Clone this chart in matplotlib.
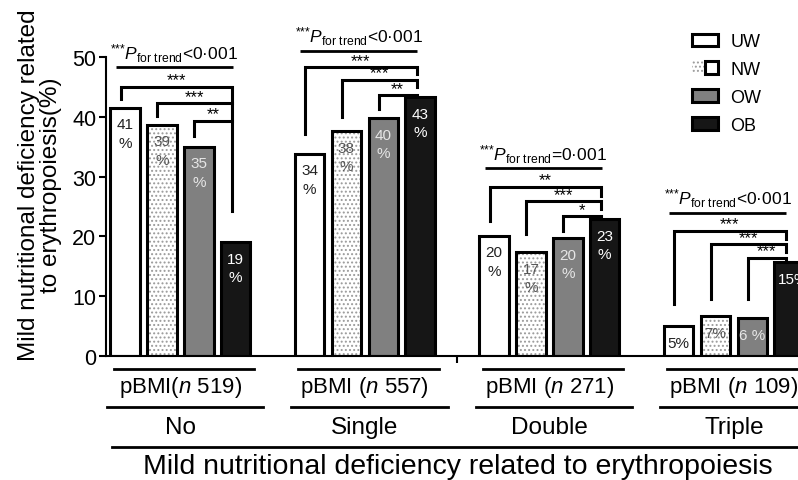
import numpy as np
import matplotlib.pyplot as plt
from matplotlib.patches import Patch
from matplotlib.legend_handler import HandlerTuple
import matplotlib.transforms as mtransforms

plt.rcParams['font.family'] = ['Liberation Sans', 'DejaVu Sans']
plt.rcParams['mathtext.fontset'] = 'custom'
plt.rcParams['mathtext.rm'] = 'Liberation Sans'
plt.rcParams['mathtext.it'] = 'Liberation Sans:italic'
plt.rcParams['hatch.linewidth'] = 0.9

# data
groups = ['No', 'Single', 'Double', 'Triple']
group_n = ['pBMI($\\mathit{n}$ 519)', 'pBMI ($\\mathit{n}$ 557)',
           'pBMI ($\\mathit{n}$ 271)', 'pBMI ($\\mathit{n}$ 109)']
series = ['UW', 'NW', 'OW', 'OB']
uw = [41.5, 33.8, 20.1, 5.0]
nw = [38.7, 37.6, 17.4, 6.7]
ow = [35.0, 39.8, 19.7, 6.3]
ob = [19.0, 43.3, 22.9, 15.7]
pct_uw = ['41', '34', '20', '5']
pct_nw = ['39', '38', '17', '7']
pct_ow = ['35', '40', '20', '6 ']
pct_ob = ['19', '43', '23', '15']

# p for trend (line height, sign)
trend_y = [48.3, 51.0, 31.4, 23.9]
trend_sign = ['<', '<', '=', '<']

# pairwise brackets: group, left bar, line height, left leg end, right leg end, stars
brackets = [
    (0, 0, 45.0, 43.0, 24.2, '***'),
    (0, 1, 42.3, 40.1, 42.3, '***'),
    (0, 2, 39.3, 36.8, 39.3, '**'),
    (1, 0, 48.3, 37.1, 47.2, '***'),
    (1, 1, 46.2, 40.0, 45.0, '***'),
    (1, 2, 43.6, 41.3, 43.6, '**'),
    (2, 0, 28.3, 22.6, 26.8, '**'),
    (2, 1, 25.9, 20.4, 24.5, '***'),
    (2, 2, 23.4, 20.9, 23.4, '*'),
    (3, 0, 20.9, 8.7, 19.6, '***'),
    (3, 1, 18.7, 9.5, 17.4, '***'),
    (3, 2, 16.4, 9.5, 15.7, '***'),
]

vals = [uw, nw, ow, ob]
pcts = [pct_uw, pct_nw, pct_ow, pct_ob]
faces = ['white', 'white', '#808080', '#161616']
txtcol = ['#222222', '#555555', '#e6e6e6', 'white']
gap = 5
base = np.arange(len(groups)) * gap

fig = plt.figure(figsize=(7.98, 4.81), dpi=100)
ax = fig.add_axes([106/798, 124/481, 692/798, 299/481])

w = 0.8
lw = 2.2
for i in range(4):
    x = base + i
    if i == 1:
        ax.bar(x, vals[i], w, color='white', edgecolor='#9a9a9a', hatch='....', linewidth=0)
        ax.bar(x, vals[i], w, color='none', edgecolor='black', linewidth=lw)
    else:
        ax.bar(x, vals[i], w, color=faces[i], edgecolor='black', linewidth=lw)
    for g in range(4):
        v = vals[i][g]
        if g < 3:
            ax.text(x[g], v - 1.6, pcts[i][g] + '\n%', ha='center', va='top', fontsize=11,
                    color=txtcol[i], linespacing=1.4)
        elif i == 3:
            # cut at the right edge, as in the source figure
            ax.text(x[g] - 0.3, v - 2.8, pcts[i][g] + '%', ha='left', va='center',
                    fontsize=11, color=txtcol[i], clip_on=True)
        else:
            ax.text(x[g], v - 2.8, pcts[i][g] + '%', ha='center', va='center', fontsize=11,
                    color=txtcol[i], clip_on=True)

# trend annotations
for g in range(4):
    x0 = base[g] - 0.25
    x1 = base[g] + 2.92
    ax.plot([x0, x1], [trend_y[g]] * 2, color='black', lw=2, clip_on=False,
            solid_capstyle='butt')
    ax.text((x0 + x1) / 2, trend_y[g] + 0.6,
            '$^{{*}{*}{*}}\\mathit{P}_{\\mathrm{for\\ trend}}$' + trend_sign[g] + '0·001',
            ha='center', va='bottom', fontsize=12.5)

# pairwise brackets
for g, i, h, lb, rb, s in brackets:
    xl = base[g] + i - 0.12
    xr = base[g] + 3 - 0.1
    ax.plot([xl, xl, xr, xr], [lb, h, h, rb], color='black', lw=2.2, clip_on=False,
            solid_joinstyle='miter')
    ax.text((xl + xr) / 2, h - 0.1, s, ha='center', va='bottom', fontsize=12)

ax.set_xlim(-0.515, -0.515 + 692 / 36.9)
ax.set_ylim(0, 50)
ax.set_yticks(np.arange(0, 51, 10))
ax.set_xticks([9.0])
ax.set_xticklabels([''])
ax.tick_params(axis='y', labelsize=15.5, width=1.5, length=5, pad=2)
ax.tick_params(axis='x', width=1.5, length=5)
for side in ['top', 'right']:
    ax.spines[side].set_visible(False)
for side in ['left', 'bottom']:
    ax.spines[side].set_linewidth(1.5)

# category labels below axis
tr = mtransforms.blended_transform_factory(ax.transData, fig.transFigure)
def fy(py):
    return 1 - py / 481

for g in range(4):
    c = base[g] + 1.5
    ax.plot([base[g] - 0.3, base[g] + 3.5], [fy(370)] * 2, transform=tr, color='black',
            lw=2, clip_on=False)
    ax.text(c, fy(388), group_n[g], transform=tr, ha='center', va='center', fontsize=16)
    ax.plot([base[g] - 0.5, base[g] + 3.75], [fy(408)] * 2, transform=tr, color='black',
            lw=2, clip_on=False)
    ax.text(c, fy(428), groups[g], transform=tr, ha='center', va='center', fontsize=17.5)
ax.plot([-0.35, 19], [fy(448)] * 2, transform=tr, color='black', lw=2, clip_on=False)
fig.text(458 / 798, fy(467), 'Mild nutritional deficiency related to erythropoiesis',
         ha='center', va='center', fontsize=20.5)

fig.text(40 / 798, fy(185), 'Mild nutritional deficiency related\nto erythropoiesis(%)',
         ha='center', va='center', rotation=90, fontsize=17.5, linespacing=1.05)

# legend
h_uw = Patch(facecolor='white', edgecolor='black', linewidth=lw)
h_nw = (Patch(facecolor='white', edgecolor='#9a9a9a', hatch='....', linewidth=0),
        Patch(facecolor='none', edgecolor='black', linewidth=lw))
h_ow = Patch(facecolor=faces[2], edgecolor='black', linewidth=lw)
h_ob = Patch(facecolor=faces[3], edgecolor='black', linewidth=lw)
fig.legend([h_uw, h_nw, h_ow, h_ob], series, loc='upper left',
           bbox_to_anchor=(676 / 798, fy(18)), frameon=False, fontsize=13,
           handlelength=1.4, handleheight=0.7, labelspacing=0.6, handletextpad=0.7,
           handler_map={tuple: HandlerTuple(ndivide=None, pad=0)})

fig.savefig('out.png', dpi=100)
